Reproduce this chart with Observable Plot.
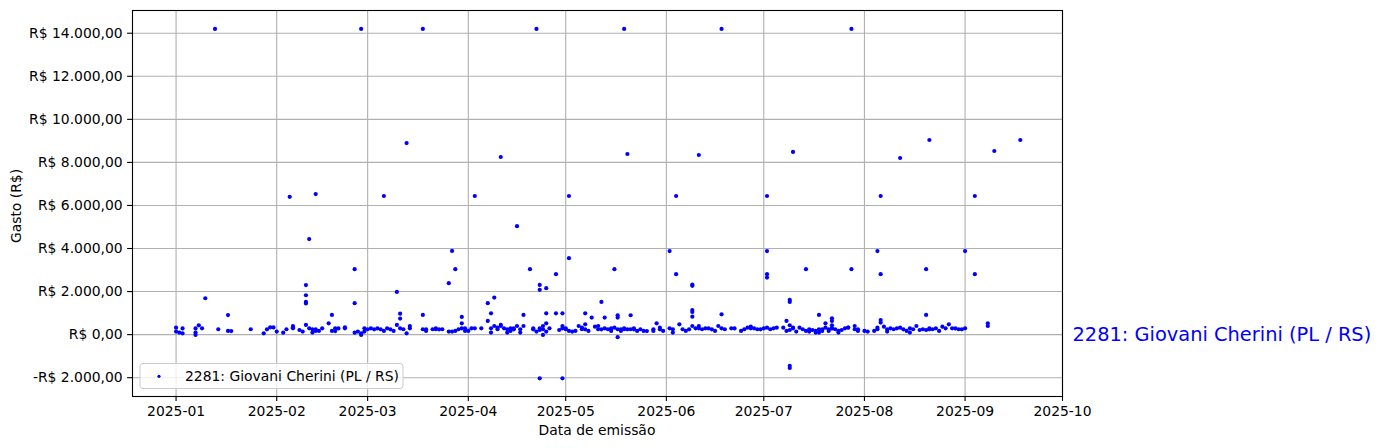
<!DOCTYPE html>
<html><head><meta charset="utf-8">
<script src="https://cdn.jsdelivr.net/npm/d3@7"></script>
<script src="https://cdn.jsdelivr.net/npm/@observablehq/plot@0.6"></script>
<style>
html,body{margin:0;padding:0;background:#fff;}
#chart{width:1380px;height:448px;}
</style></head><body><div id="chart"></div>
<script>
const serie = "2281: Giovani Cherini (PL / RS)";
const tituloY = "Gasto (R$)";
const tituloX = "Data de emissão";

// [dia, gasto em R$] por mês de 2025
const jan = [[1,325],[1,140],[2,95],[3,60],[3,290],[7,290],[7,95],[7,-15],[8,430],[9,295],[10,1690],[13,14200],[14,250],[17,910],[17,170],[18,165],[24,250],[28,60],[29,245],[30,340],[31,335]];
const fev = [[1,140],[3,90],[4,250],[5,6400],[6,400],[6,295],[6,340],[8,215],[9,140],[10,2300],[10,1830],[10,1520],[10,1450],[10,450],[11,4440],[11,295],[12,95],[12,250],[13,170],[13,6530],[13,245],[14,170],[15,295],[17,525],[18,915],[18,170],[19,295],[19,165],[20,290],[22,340],[22,295],[25,3040],[25,1460],[25,90],[26,140],[27,-15],[27,14200],[27,60],[28,295],[28,140]];
const mar = [[1,250],[2,295],[3,245],[4,290],[5,250],[6,170],[6,6440],[7,295],[8,245],[9,170],[10,1985],[10,450],[11,975],[11,745],[11,295],[12,250],[13,8900],[13,60],[14,400],[14,295],[18,250],[18,14200],[18,915],[19,170],[19,245],[21,250],[22,250],[22,295],[23,245],[24,250],[26,140],[26,2390],[27,140],[27,3890],[28,170],[28,3040],[29,250],[30,295],[30,525],[30,820],[31,295],[31,170]];
const abr = [[1,170],[2,295],[3,6440],[3,295],[5,295],[7,1460],[7,635],[8,990],[8,295],[8,95],[9,1720],[9,400],[10,250],[10,325],[11,450],[11,8250],[11,400],[12,295],[13,250],[13,95],[14,295],[14,170],[15,295],[15,245],[16,400],[16,5040],[17,250],[17,95],[18,915],[18,400],[20,3040],[21,295],[21,245],[22,14200],[22,140],[23,215],[23,295],[23,2310],[23,2080],[23,-2030],[24,-15],[24,250],[24,400],[25,2160],[25,990],[25,525],[25,140],[26,295],[28,2810],[28,990],[29,215],[30,-2030],[30,295],[30,400],[30,990]];
const mai = [[1,250],[1,295],[2,6440],[2,3550],[2,170],[3,140],[4,170],[5,400],[6,250],[6,325],[7,990],[7,480],[7,245],[8,170],[9,790],[10,370],[11,250],[11,400],[12,1520],[12,245],[13,790],[13,295],[14,250],[15,170],[15,295],[16,325],[16,3040],[17,250],[17,900],[17,790],[17,-120],[18,245],[18,170],[19,250],[19,14200],[19,295],[20,245],[20,8390],[21,250],[21,900],[22,295],[22,245],[23,170],[24,250],[25,170],[26,165],[28,170],[28,250],[29,525],[30,325],[30,245],[31,170]];
const jun = [[2,295],[2,3880],[3,250],[3,95],[4,6440],[4,2810],[5,480],[6,250],[7,170],[8,245],[9,2265],[9,2320],[9,1145],[9,1055],[9,835],[9,400],[10,295],[11,400],[11,8345],[11,295],[12,250],[13,295],[14,290],[15,245],[16,170],[17,400],[18,945],[18,14200],[18,295],[19,250],[21,295],[22,290],[24,170],[25,250],[26,325],[27,295],[27,370],[28,295],[29,250],[30,245]];
const jul = [[1,295],[2,2650],[2,2810],[2,3880],[2,6440],[2,325],[3,250],[4,295],[5,325],[7,325],[8,170],[8,635],[9,1610],[9,1520],[9,-1450],[9,-1550],[9,215],[9,435],[10,325],[10,8485],[10,295],[11,140],[12,325],[13,250],[14,170],[14,3040],[15,245],[15,140],[16,215],[17,95],[17,170],[18,250],[18,915],[18,95],[19,170],[19,245],[20,525],[20,325],[21,250],[21,170],[22,760],[22,635],[22,435],[22,295],[22,290],[23,250],[24,170],[24,95],[25,215],[26,295],[27,325],[27,330],[28,14200],[28,3040],[29,250],[29,400],[30,245],[30,170]];
const ago = [[1,170],[2,140],[4,170],[5,250],[5,3880],[5,325],[6,6440],[6,2810],[6,680],[6,560],[7,370],[8,250],[8,140],[9,295],[10,250],[11,295],[12,325],[12,8205],[13,245],[14,170],[15,95],[15,295],[16,250],[17,400],[18,215],[19,250],[20,215],[20,915],[20,3040],[21,245],[21,295],[21,9040],[22,250],[23,295],[24,170],[25,370],[26,295],[27,480],[28,295],[29,290],[30,250],[31,245]];
const setb = [[1,295],[1,3880],[4,6440],[4,2810],[8,525],[8,400],[10,8530],[18,9040]];

const meses = [["2025-01", jan], ["2025-02", fev], ["2025-03", mar], ["2025-04", abr], ["2025-05", mai], ["2025-06", jun], ["2025-07", jul], ["2025-08", ago], ["2025-09", setb]];
const xTicks = ["2025-01","2025-02","2025-03","2025-04","2025-05","2025-06","2025-07","2025-08","2025-09","2025-10"];
const yTicks = [-2000, 0, 2000, 4000, 6000, 8000, 10000, 12000, 14000];

const dados = meses.flatMap(([m, arr]) => arr.map(([d, v]) => ({
  data: new Date(`${m}-${String(d).padStart(2, "0")}T00:00:00Z`), gasto: v
})));
const xTickDates = xTicks.map(s => new Date(s + "-01T00:00:00Z"));
const fim = xTickDates[xTickDates.length - 1];

const fmtBRL = v => (v < 0 ? "-" : "") + "R$ " +
  d3.format(",.2f")(Math.abs(v)).replace(/,/g, "X").replace(".", ",").replace(/X/g, ".");

const FS = 13.9;
const chart = Plot.plot({
  width: 1380, height: 448,
  marginLeft: 132, marginRight: 318, marginTop: 10, marginBottom: 52,
  style: {fontFamily: "'DejaVu Sans', sans-serif", fontSize: FS + "px", color: "black", background: "white", overflow: "visible"},
  x: {type: "utc", domain: [new Date("2024-12-18T14:00:00Z"), fim]},
  y: {domain: [-2874, 15056]},
  marks: [
    Plot.gridX(xTickDates, {stroke: "#b0b0b0", strokeOpacity: 1, strokeWidth: 1.1}),
    Plot.gridY(yTicks, {stroke: "#b0b0b0", strokeOpacity: 1, strokeWidth: 1.1}),
    Plot.dot(dados, {x: "data", y: "gasto", r: 2.1, fill: "blue", stroke: null}),
    Plot.frame({stroke: "black", strokeWidth: 1.1}),
    Plot.axisX(xTickDates, {tickFormat: d3.utcFormat("%Y-%m"), tickSize: 4.9, tickPadding: 4.9, label: null, strokeWidth: 1.1}),
    Plot.axisY(yTicks, {tickFormat: fmtBRL, tickSize: 4.9, tickPadding: 4.9, label: null, strokeWidth: 1.1}),
    Plot.text([serie], {x: () => fim, y: () => 0, text: d => d, textAnchor: "start", dx: 10, fill: "blue", fontSize: 19.4})
  ]
});
document.getElementById("chart").appendChild(chart);

const svg = d3.select(chart);
svg.append("text").attr("transform", "translate(16,206) rotate(-90)")
  .attr("text-anchor", "middle").attr("dominant-baseline", "central")
  .attr("font-size", FS).attr("fill", "black").text(tituloY);
svg.append("text").attr("x", 597).attr("y", 430)
  .attr("text-anchor", "middle").attr("dominant-baseline", "central")
  .attr("font-size", FS).attr("fill", "black").text(tituloX);
const lg = svg.append("g");
lg.append("rect").attr("x", 140).attr("y", 363.5).attr("width", 263).attr("height", 25).attr("rx", 3)
  .attr("fill", "white").attr("fill-opacity", 0.8).attr("stroke", "#cccccc").attr("stroke-width", 1);
lg.append("circle").attr("cx", 159).attr("cy", 376.3).attr("r", 1.6).attr("fill", "blue");
lg.append("text").attr("x", 185).attr("y", 376.3).attr("text-anchor", "start").attr("dominant-baseline", "central")
  .attr("font-size", FS).attr("fill", "black").text(serie);
</script></body></html>
